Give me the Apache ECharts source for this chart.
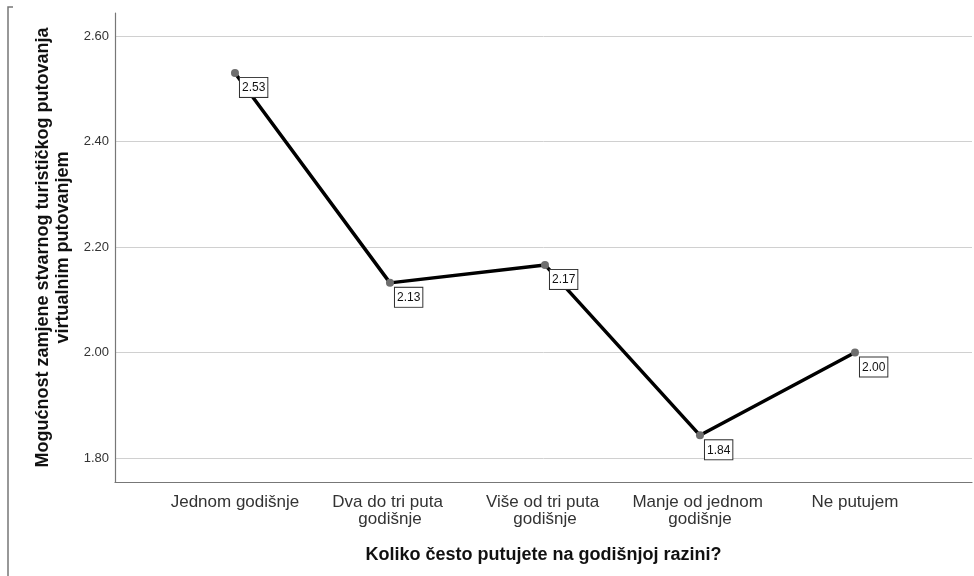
<!DOCTYPE html>
<html>
<head>
<meta charset="utf-8">
<script src="https://cdn.jsdelivr.net/npm/echarts@6/dist/echarts.min.js"></script>
<style>
  html, body { margin: 0; padding: 0; background: #fff; }
  #chart { width: 974px; height: 576px; }
</style>
</head>
<body>
<div id="chart"></div>
<script>
const categories = ["Jednom godišnje", "Dva do tri puta godišnje", "Više od tri puta godišnje", "Manje od jednom godišnje", "Ne putujem"];
const means = [2.530, 2.132, 2.166, 1.843, 2.000];
const yTicks = [1.8, 2.0, 2.2, 2.4, 2.6];
const xTicks = [0, 1, 2, 3, 4];

const font = "'Liberation Sans', Arial, sans-serif";
const chart = echarts.init(document.getElementById("chart"));

const option = {
  animation: false,
  grid: { left: 115, right: 2, top: 13, bottom: 94 },
  graphic: [
    {
      type: "polyline",
      shape: { points: [[13, 7], [8, 7], [8, 576]] },
      style: { stroke: "#777", lineWidth: 1.5, fill: null }
    }
  ],
  xAxis: {
    type: "value",
    min: -0.774,
    max: 4.755,
    name: "Koliko često putujete na godišnjoj razini?",
    nameLocation: "middle",
    nameGap: 64,
    nameTextStyle: { fontFamily: font, fontSize: 18, fontWeight: "bold", color: "#111" },
    axisLine: { show: true, onZero: false, lineStyle: { color: "#777", width: 1.2 } },
    axisTick: { show: false },
    splitLine: { show: false },
    axisLabel: {
      customValues: xTicks,
      formatter: function (v) { return categories[Math.round(v)]; },
      fontFamily: font,
      fontSize: 17,
      color: "#333",
      margin: 12,
      lineHeight: 17,
      width: 150,
      overflow: "break"
    }
  },
  yAxis: {
    type: "value",
    min: 1.7545,
    max: 2.6436,
    name: "Mogućnost zamjene stvarnog turističkog putovanja\nvirtualnim putovanjem",
    nameLocation: "middle",
    nameGap: 41,
    nameTextStyle: { fontFamily: font, fontSize: 18, fontWeight: "bold", color: "#111", lineHeight: 20 },
    axisLine: { show: true, onZero: false, lineStyle: { color: "#777", width: 1.2 } },
    // ticks kept (invisible) so the grid lines follow yTicks
    axisTick: { show: true, customValues: yTicks, length: 0, lineStyle: { color: "rgba(0,0,0,0)" } },
    splitLine: { show: true, lineStyle: { color: "#d0d0d0", width: 1 } },
    axisLabel: {
      customValues: yTicks,
      formatter: function (v) { return v.toFixed(2); },
      fontFamily: font,
      fontSize: 13,
      color: "#333",
      margin: 6
    }
  },
  series: [
    {
      type: "line",
      data: means.map(function (v, i) { return [i, v]; }),
      symbol: "circle",
      symbolSize: 8,
      lineStyle: { color: "#000", width: 3.5 },
      itemStyle: { color: "#6e6e6e" },
      label: {
        show: true,
        position: [9, 9],
        formatter: function (p) { return p.value[1].toFixed(2); },
        fontFamily: font,
        fontSize: 12,
        lineHeight: 14,
        color: "#111",
        backgroundColor: "#fff",
        borderColor: "#333",
        borderWidth: 1,
        padding: [3, 2, 2, 2]
      }
    }
  ]
};

chart.setOption(option);
</script>
</body>
</html>
